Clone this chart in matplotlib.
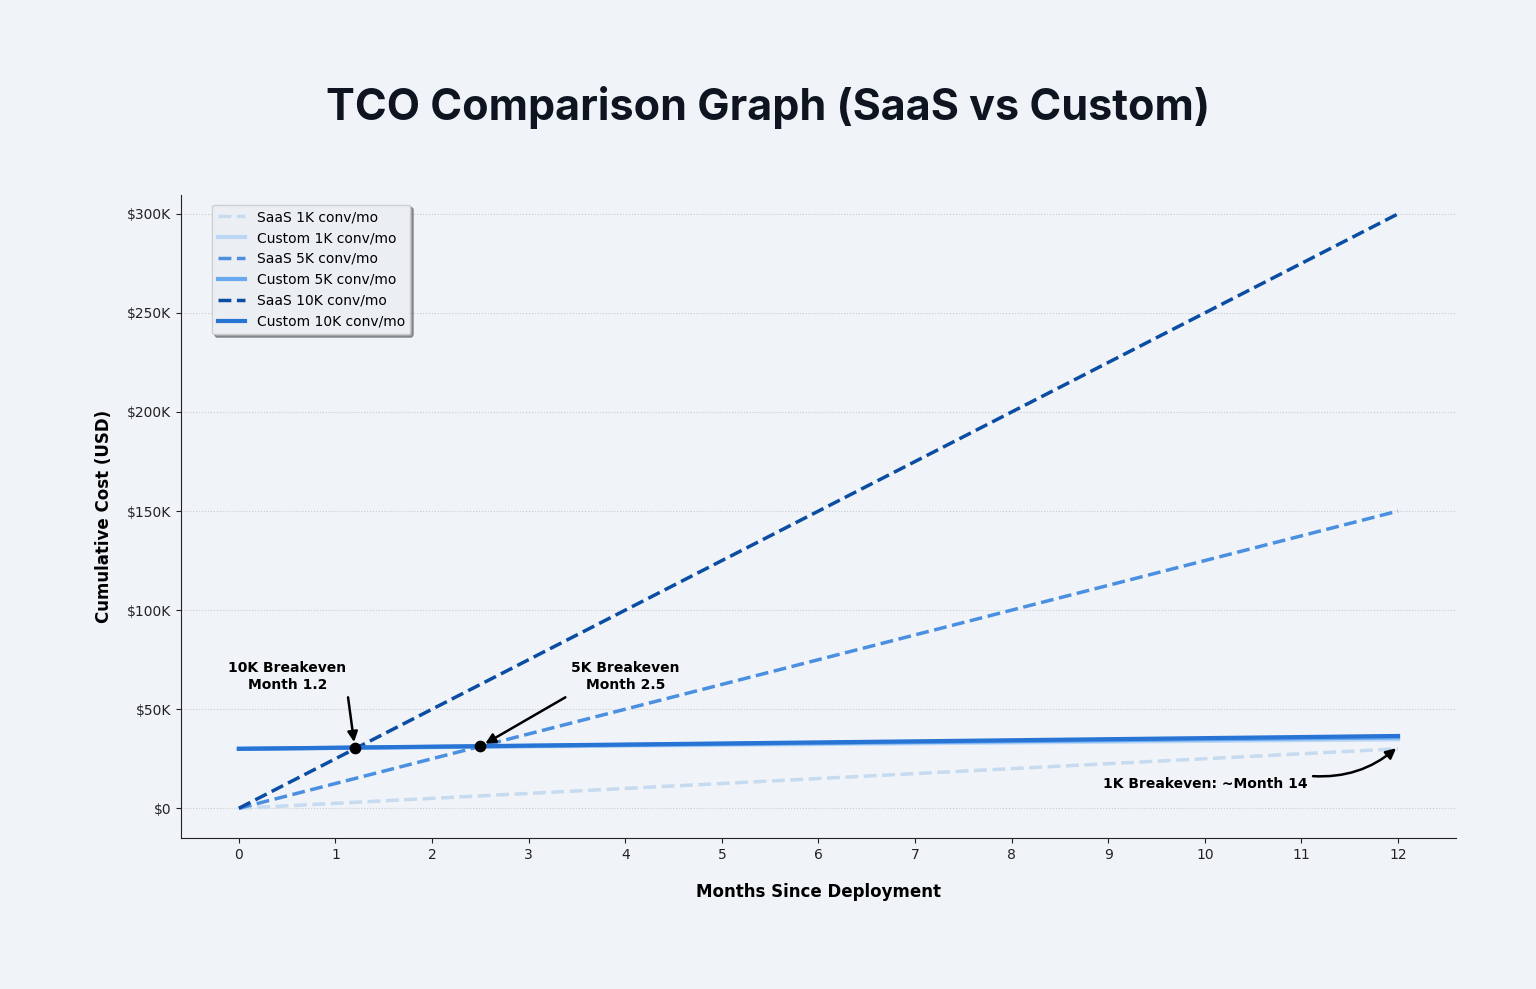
import matplotlib
matplotlib.use("Agg")
import matplotlib.pyplot as plt
import numpy as np
from matplotlib.ticker import FuncFormatter

months = list(range(13))
saas_1k = [2500 * m for m in months]
saas_5k = [12500 * m for m in months]
saas_10k = [25000 * m for m in months]
custom_1k = [30000 + 400 * m for m in months]
custom_5k = [30000 + 480 * m for m in months]
custom_10k = [30000 + 540 * m for m in months]

breakeven_x = [1.2, 2.5]
breakeven_y = [30650, 31200]

bg = '#f0f4f8'
plt.rcParams['font.family'] = ['DejaVu Sans']
fig = plt.figure(figsize=(15.36, 9.89), dpi=100, facecolor=bg)
ax = fig.add_axes([0.1178, 0.1527, 0.8301, 0.6501])
ax.set_facecolor(bg)

ax.plot(months, saas_1k, linestyle='--', color='#c6daf0', lw=2.5, label='SaaS 1K conv/mo')
ax.plot(months, custom_1k, linestyle='-', color='#bcd7f6', lw=3, label='Custom 1K conv/mo')
ax.plot(months, saas_5k, linestyle='--', color='#4a8fe0', lw=2.5, label='SaaS 5K conv/mo')
ax.plot(months, custom_5k, linestyle='-', color='#68a9f0', lw=3, label='Custom 5K conv/mo')
ax.plot(months, saas_10k, linestyle='--', color='#0a4da2', lw=2.5, label='SaaS 10K conv/mo')
ax.plot(months, custom_10k, linestyle='-', color='#2874d4', lw=3, label='Custom 10K conv/mo')

ax.scatter(breakeven_x, breakeven_y, color='black', s=55, zorder=5)

arrow = dict(arrowstyle='-|>', color='black', lw=1.8, mutation_scale=15, shrinkA=0, shrinkB=4)
ax.text(0.5, 66500, '10K Breakeven\nMonth 1.2', ha='center', va='center', fontsize=10, fontweight='bold')
ax.annotate('', xy=(breakeven_x[0], breakeven_y[0]), xytext=(1.13, 56000), arrowprops=arrow)
ax.text(4.0, 66500, '5K Breakeven\nMonth 2.5', ha='center', va='center', fontsize=10, fontweight='bold')
ax.annotate('', xy=(breakeven_x[1], breakeven_y[1]), xytext=(3.38, 56000), arrowprops=arrow)
ax.text(10.0, 12300, '1K Breakeven: ~Month 14', ha='center', va='center', fontsize=10, fontweight='bold')
ax.annotate('', xy=(11.98, 30300), xytext=(11.12, 16200),
            arrowprops=dict(arrowstyle='-|>', color='black', lw=1.8, mutation_scale=15,
                            connectionstyle='arc3,rad=0.2', shrinkA=0, shrinkB=0))

ax.set_xlim(-0.6, 12.6)
ax.set_ylim(-15000, 309500)
ax.set_xticks(months)
ax.set_yticks(range(0, 300001, 50000))
ax.yaxis.set_major_formatter(FuncFormatter(lambda v, p: f'${int(v/1000)}K' if v else '$0'))
ax.tick_params(labelsize=10, colors='#222222')
ax.grid(axis='y', linestyle=':', color='#c8ccd0', lw=0.8)
ax.set_axisbelow(True)
for s in ['top', 'right']:
    ax.spines[s].set_visible(False)
ax.spines['left'].set_color('#222222')
ax.spines['bottom'].set_color('#222222')

ax.set_xlabel('Months Since Deployment', fontsize=12, fontweight='bold', labelpad=15)
ax.set_ylabel('Cumulative Cost (USD)', fontsize=12, fontweight='bold', labelpad=10)

leg = ax.legend(loc='upper left', bbox_to_anchor=(0.019, 0.996), fontsize=10,
                frameon=True, fancybox=True, shadow=True, framealpha=0.95,
                borderpad=0.4, labelspacing=0.5, handlelength=2.0)
leg.get_frame().set_edgecolor('#cccccc')
leg.get_frame().set_facecolor(bg)

fig.text(0.5, 0.891, 'TCO Comparison Graph (SaaS vs Custom)', ha='center', va='center',
         fontsize=31, fontweight='bold', color='#0f1520', family=['Inter', 'DejaVu Sans'])

fig.savefig('out.png', dpi=100, facecolor=bg)
